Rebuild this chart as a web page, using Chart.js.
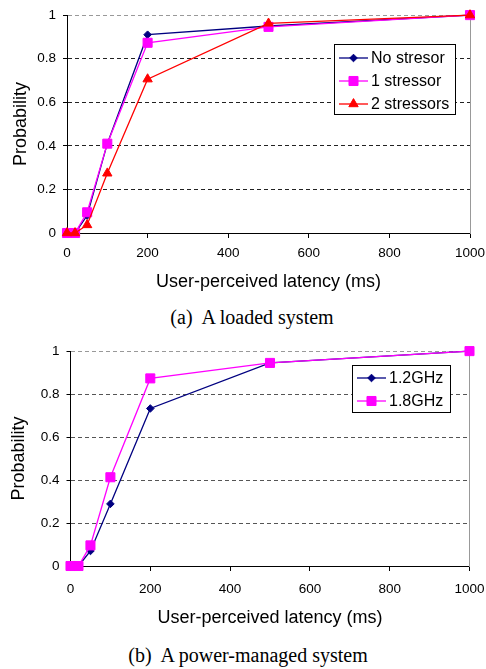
<!DOCTYPE html>
<html>
<head>
<meta charset="utf-8">
<script src="https://cdn.jsdelivr.net/npm/chart.js@4.4.1/dist/chart.umd.min.js"></script>
<style>
  body { margin: 0; background: #fff; }
  #wrap { position: relative; width: 486px; height: 669px; overflow: hidden; }
  .box { position: absolute; left: 0; width: 486px; }
  .caption {
    position: absolute; width: 300px; text-align: center;
    font-family: 'Liberation Serif', 'Times New Roman', serif;
    font-size: 20px; line-height: 24px; color: #000; white-space: pre;
  }
</style>
</head>
<body>
<div id="wrap">
  <div class="box" style="top:0;height:293px"><canvas id="loaded"></canvas></div>
  <div class="caption" style="left:102px;top:305px">(a)  A loaded system</div>
  <div class="box" style="top:336px;height:293px"><canvas id="power"></canvas></div>
  <div class="caption" style="left:98px;top:643px">(b)  A power-managed system</div>
</div>
<script>
// ---- data ----
const latency = [0, 20, 50, 100, 200, 500, 1000];

const noStressor   = [0, 0, 0.08, 0.41, 0.91, 0.95, 1];
const oneStressor  = [0, 0, 0.095, 0.41, 0.873, 0.946, 1];
const twoStressors = [0, 0, 0.037, 0.274, 0.706, 0.962, 1];

const ghz12 = [0, 0, 0.07, 0.289, 0.733, 0.945, 1];
const ghz18 = [0, 0, 0.096, 0.413, 0.873, 0.945, 1];

const xTicks = [0, 200, 400, 600, 800, 1000];
const xTickLabels = ['0', '200', '400', '600', '800', '1000'];
const yTicks = [0, 0.2, 0.4, 0.6, 0.8, 1];
const yTickLabels = ['0', '0.2', '0.4', '0.6', '0.8', '1'];

const FONT = "'Liberation Sans', Arial, sans-serif";
const NAVY = '#000080', MAGENTA = '#ff00ff', RED = '#ff0000';

// Legend drawn inside the plot: line + marker + label, boxed
const boxLegend = {
  id: 'boxLegend',
  afterDraw(chart, args, opts) {
    const ctx = chart.ctx;
    ctx.save();
    ctx.fillStyle = '#fff';
    ctx.strokeStyle = '#000';
    ctx.lineWidth = 1;
    ctx.fillRect(opts.x, opts.y, opts.w, opts.h);
    ctx.strokeRect(opts.x + 0.5, opts.y + 0.5, opts.w, opts.h);
    ctx.font = '16px ' + FONT;
    ctx.textBaseline = 'middle';
    chart.data.datasets.forEach((ds, i) => {
      const cy = opts.y + opts.first + i * opts.rowH;
      const x0 = opts.x + 5, x1 = x0 + 29;
      ctx.strokeStyle = ds.borderColor;
      ctx.fillStyle = ds.borderColor;
      ctx.lineWidth = ds.borderWidth;
      ctx.beginPath();
      ctx.moveTo(x0, cy);
      ctx.lineTo(x1, cy);
      ctx.stroke();
      ctx.lineWidth = 1;
      Chart.helpers.drawPoint(ctx, {
        pointStyle: ds.pointStyle, radius: ds.pointRadius, borderWidth: 1
      }, (x0 + x1) / 2, cy);
      ctx.fillStyle = '#000';
      ctx.fillText(ds.label, x1 + 3, cy + 1);
    });
    ctx.restore();
  }
};

function series(label, values, color, style, radius, order) {
  return {
    label,
    data: values.map((v, i) => ({ x: latency[i], y: v })),
    borderColor: color,
    backgroundColor: color,
    borderWidth: 1.3,
    pointStyle: style,
    pointRadius: radius,
    pointBackgroundColor: color,
    pointBorderColor: color,
    pointBorderWidth: 1,
    tension: 0,
    clip: false,
    order
  };
}

function makeChart(id, datasets, cfg) {
  return new Chart(document.getElementById(id), {
    type: 'line',
    data: { datasets },
    options: {
      responsive: true,
      maintainAspectRatio: false,
      animation: false,
      layout: { padding: { top: 15, right: cfg.right, left: cfg.left, bottom: 0 } },
      plugins: {
        legend: { display: false },
        tooltip: { enabled: false },
        boxLegend: cfg.legend
      },
      scales: {
        x: {
          type: 'linear', min: 0, max: 1000,
          afterBuildTicks: ax => { ax.ticks = xTicks.map(v => ({ value: v })); },
          afterFit: ax => { ax.height = cfg.xHeight; ax.paddingLeft = 0; ax.paddingRight = 0; },
          grid: { drawOnChartArea: false, drawTicks: true, tickLength: 5, tickColor: '#000' },
          border: { color: '#000', width: 1 },
          ticks: { color: '#000', font: { family: FONT, size: 13.5 }, padding: cfg.xPad, maxRotation: 0,
                   callback: (v, i) => xTickLabels[i] },
          title: { display: true, text: 'User-perceived latency (ms)', color: '#000',
                   font: { family: FONT, size: 18 }, padding: 0 }
        },
        y: {
          min: 0, max: 1,
          afterBuildTicks: ax => { ax.ticks = yTicks.map(v => ({ value: v })); },
          afterFit: ax => { ax.width = cfg.yWidth; },
          grid: {
            color: c => c.tick.value === 1 ? '#999' : (c.tick.value === 0 ? 'rgba(0,0,0,0)' : cfg.gridColor),
            tickBorderDash: [],
            tickColor: '#000',
            tickLength: 4
          },
          border: { color: '#000', width: 1, dash: [4, 3] },
          ticks: { color: '#000', font: { family: FONT, size: 13.5 }, padding: 7,
                   callback: (v, i) => yTickLabels[i] },
          title: { display: true, text: 'Probability', color: '#000',
                   font: { family: FONT, size: 18 }, padding: 0 }
        },
        yr: {
          position: 'right', min: 0, max: 1,
          afterFit: ax => { ax.width = 0; },
          grid: { drawOnChartArea: false, drawTicks: false },
          border: { color: '#999', width: 1 },
          ticks: { display: false }
        }
      }
    },
    plugins: [boxLegend]
  });
}

makeChart('loaded', [
  series('No stresor', noStressor, NAVY, 'rectRot', 3.8, 2),
  series('1 stressor', oneStressor, MAGENTA, 'rect', 6.4, 1),
  series('2 stressors', twoStressors, RED, 'triangle', 5.4, 0)
], {
  left: 10, right: 16, yWidth: 57, xHeight: 60, xPad: 7, gridColor: '#222',
  legend: { x: 334, y: 44, w: 121, h: 70, first: 14, rowH: 23 }
});

makeChart('power', [
  series('1.2GHz', ghz12, NAVY, 'rectRot', 3.8, 1),
  series('1.8GHz', ghz18, MAGENTA, 'rect', 6.4, 0)
], {
  left: 8.5, right: 16.5, yWidth: 62, xHeight: 63, xPad: 10, gridColor: '#555',
  legend: { x: 352, y: 29, w: 98, h: 47, first: 13, rowH: 23 }
});
</script>
</body>
</html>
